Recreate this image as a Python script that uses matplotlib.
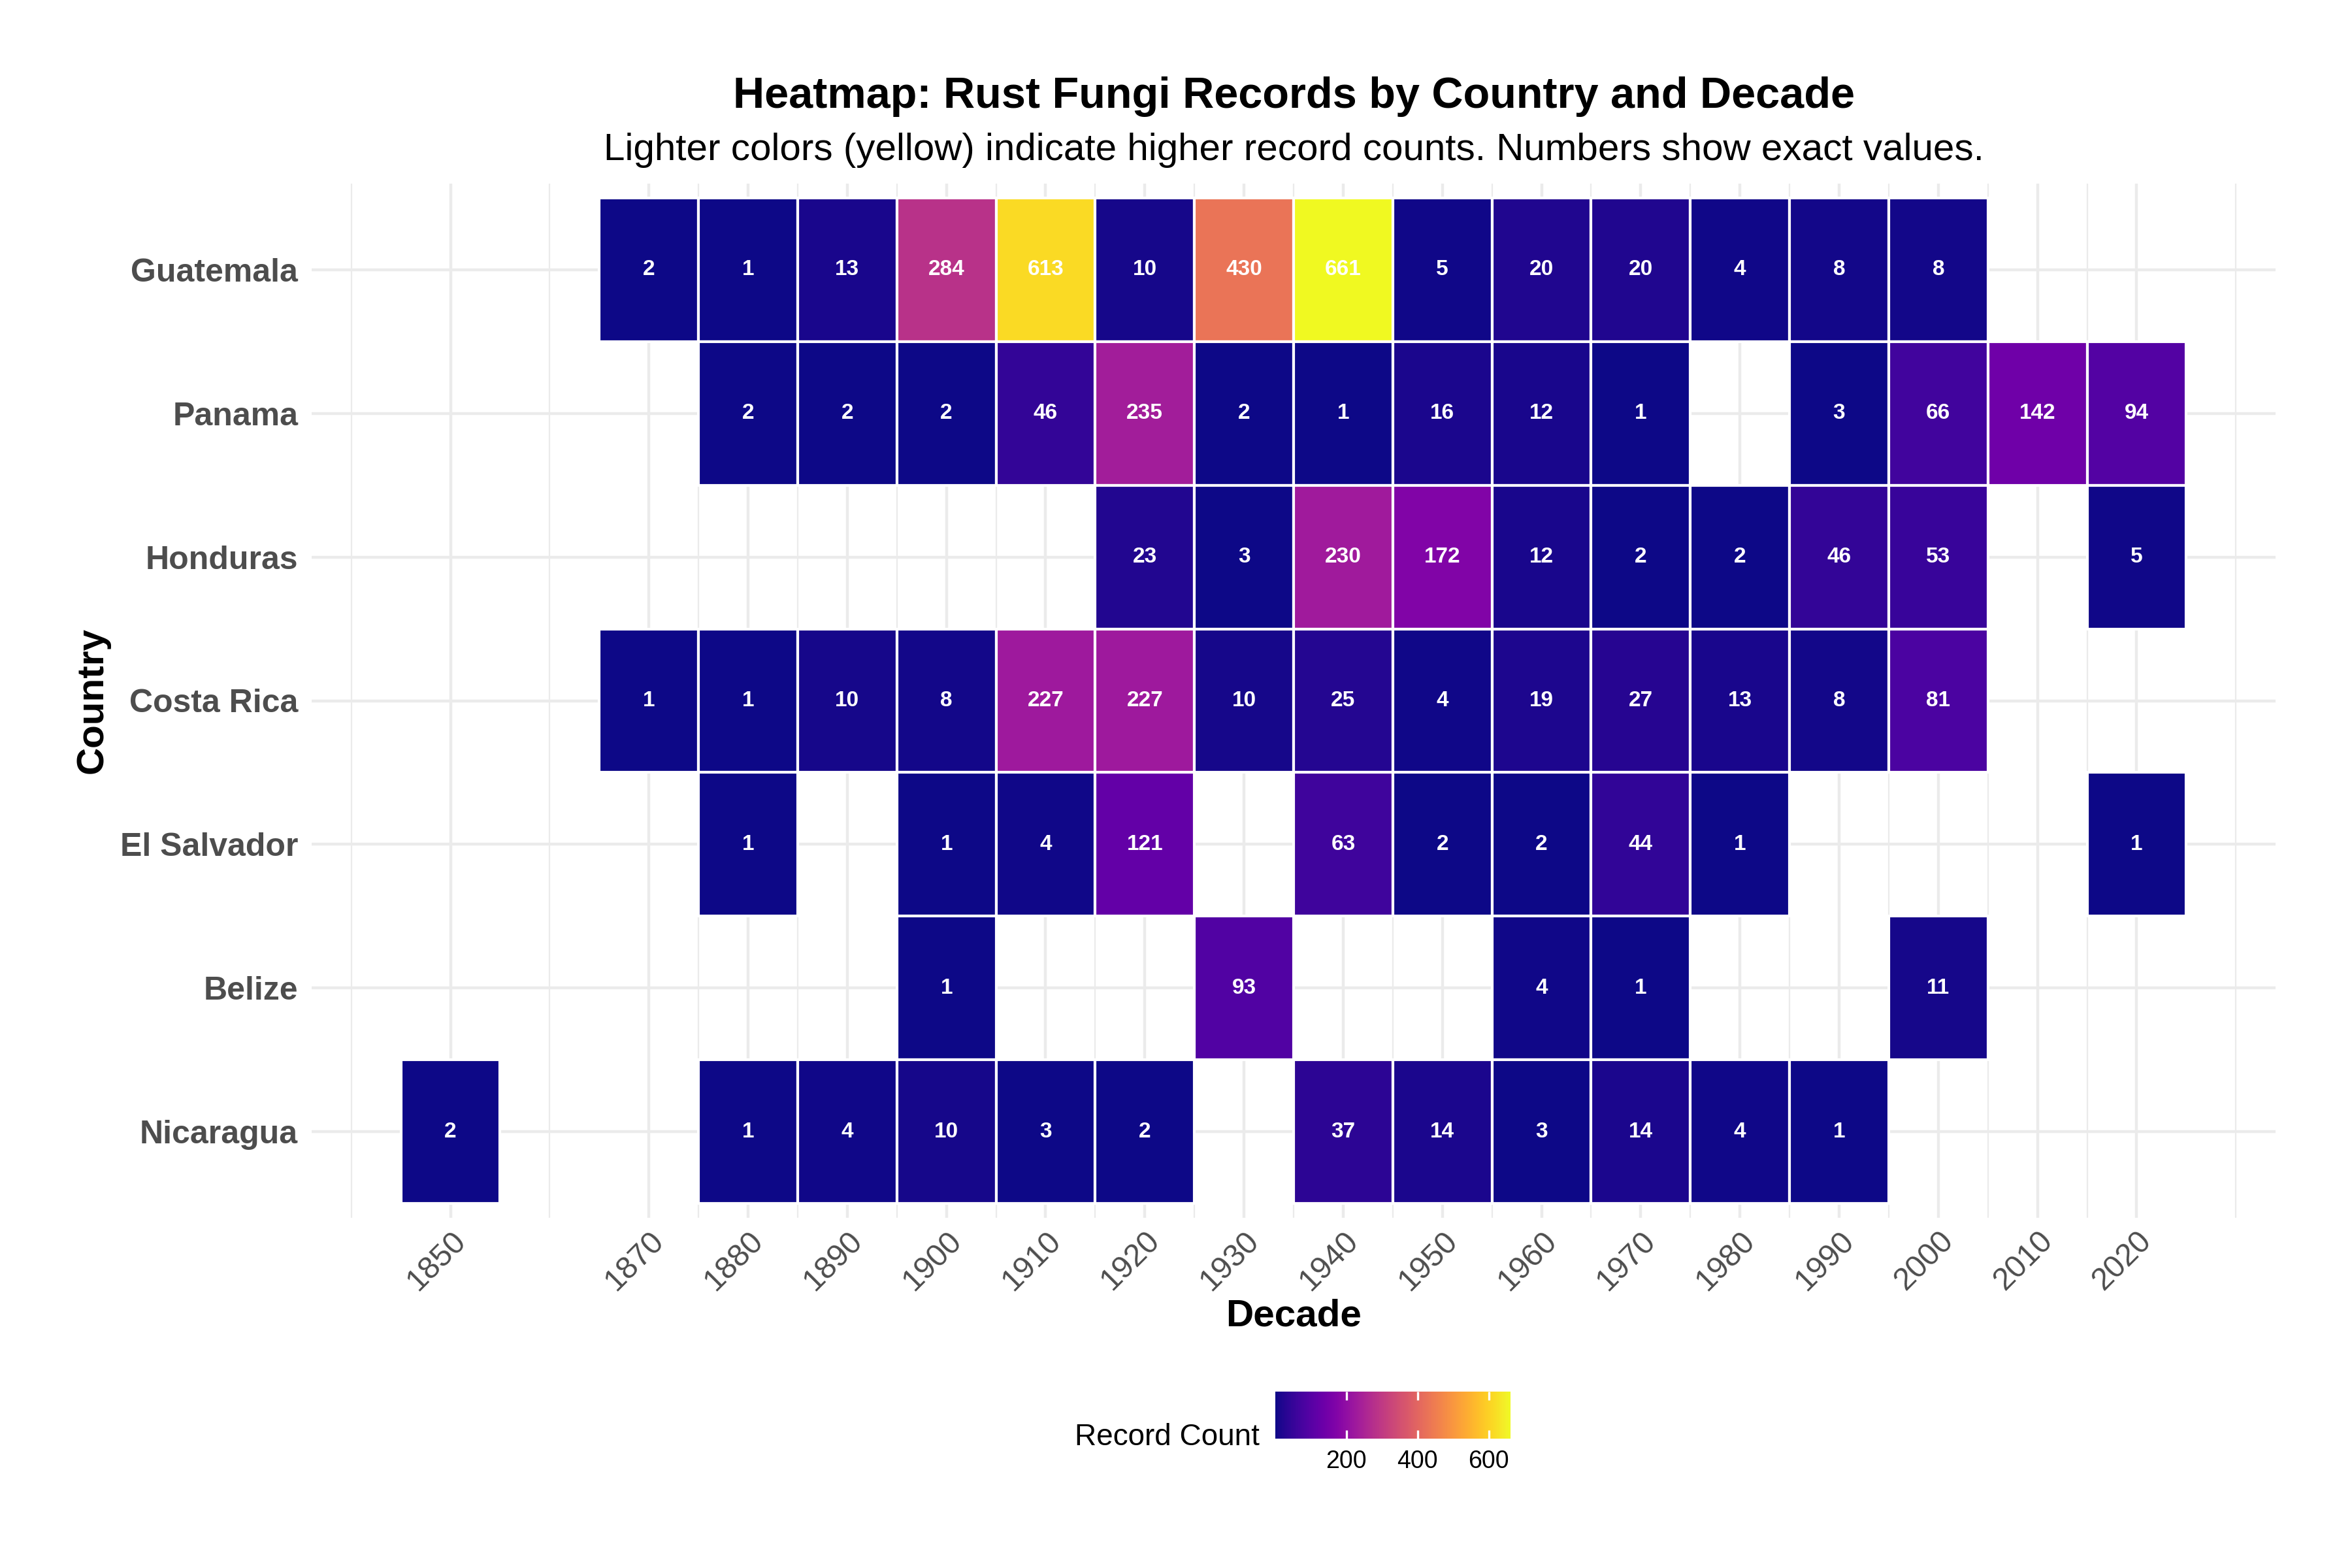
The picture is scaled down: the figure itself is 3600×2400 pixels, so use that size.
import matplotlib
matplotlib.use("Agg")
import matplotlib.pyplot as plt
import numpy as np
from matplotlib import cm, colors

plt.rcParams["font.family"] = ["Liberation Sans", "DejaVu Sans"]

# ------------------------------------------------------------------ data
decades = [1850, 1870, 1880, 1890, 1900, 1910, 1920, 1930, 1940,
           1950, 1960, 1970, 1980, 1990, 2000, 2010, 2020]
countries = ["Guatemala", "Panama", "Honduras", "Costa Rica",
             "El Salvador", "Belize", "Nicaragua"]   # top -> bottom

guatemala = [None, 2, 1, 13, 284, 613, 10, 430, 661, 5, 20, 20, 4, 8, 8, None, None]
panama = [None, None, 2, 2, 2, 46, 235, 2, 1, 16, 12, 1, None, 3, 66, 142, 94]
honduras = [None, None, None, None, None, None, 23, 3, 230, 172, 12, 2, 2, 46, 53, None, 5]
costa_rica = [None, 1, 1, 10, 8, 227, 227, 10, 25, 4, 19, 27, 13, 8, 81, None, None]
el_salvador = [None, None, 1, None, 1, 4, 121, None, 63, 2, 2, 44, 1, None, None, None, 1]
belize = [None, None, None, None, 1, None, None, 93, None, None, 4, 1, None, None, 11, None, None]
nicaragua = [2, None, 1, 4, 10, 3, 2, None, 37, 14, 3, 14, 4, 1, None, None, None]

rows = [guatemala, panama, honduras, costa_rica, el_salvador, belize, nicaragua]
cbar_ticks = [200, 400, 600]

# ------------------------------------------------------------------ style
GRID = "#EBEBEB"
AXTXT = "#4D4D4D"
W, H = 3600, 2400
fig = plt.figure(figsize=(12, 8), dpi=300)
fig.patch.set_facecolor("white")

# panel placement (pixel based)
pl, pr, pt, pb = 477, 3483, 281, 1864
ax = fig.add_axes([pl / W, 1 - pb / H, (pr - pl) / W, (pb - pt) / H])

allvals = [v for r in rows for v in r if v is not None]
norm = colors.Normalize(vmin=min(allvals), vmax=max(allvals))
cmap = plt.get_cmap("plasma")

n = len(countries)
for i, (country, vals) in enumerate(zip(countries, rows)):
    y = n - 1 - i
    xs = [d for d, v in zip(decades, vals) if v is not None]
    vs = [v for v in vals if v is not None]
    ax.bar(xs, 1.0, width=10, bottom=y - 0.5, color=cmap(norm(np.array(vs))),
           edgecolor="white", linewidth=1.0, zorder=3)
    for x, v in zip(xs, vs):
        ax.text(x, y, str(v), ha="center", va="center", color="white",
                fontsize=8, fontweight="bold", zorder=4)

# continuous x with ggplot-like expansion
lo, hi = min(decades) - 5, max(decades) + 5
pad = (hi - lo) * 0.05
ax.set_xlim(lo - pad, hi + pad)
ax.set_ylim(-0.6, n - 1 + 0.6)

ax.set_xticks(decades)
ax.set_xticklabels([str(d) for d in decades], rotation=45, ha="right",
                   va="top", rotation_mode="anchor", fontsize=11.5, color=AXTXT)
ext = [decades[0] - (decades[1] - decades[0])] + decades + \
      [decades[-1] + (decades[1] - decades[0])]
ax.set_xticks([(a + b) / 2 for a, b in zip(ext[:-1], ext[1:])], minor=True)
ax.set_yticks(range(n))
ax.set_yticklabels(countries[::-1], fontsize=12, fontweight="bold", color=AXTXT)
ax.tick_params(axis="both", which="both", length=0)
ax.tick_params(axis="x", pad=3)
ax.tick_params(axis="y", pad=5)

ax.set_axisbelow(True)
ax.grid(which="major", color=GRID, linewidth=1.07, zorder=0)
ax.grid(which="minor", axis="x", color=GRID, linewidth=0.53, zorder=0)
for s in ax.spines.values():
    s.set_visible(False)

# titles and axis labels
cx = (pl + pr) / 2 / W
fig.text(cx, 1 - 165 / H, "Heatmap: Rust Fungi Records by Country and Decade",
         ha="center", va="baseline", fontsize=16, fontweight="bold")
fig.text(cx, 1 - 245 / H,
         "Lighter colors (yellow) indicate higher record counts. Numbers show exact values.",
         ha="center", va="baseline", fontsize=14)
fig.text(cx, 1 - 2029 / H, "Decade", ha="center", va="baseline",
         fontsize=14, fontweight="bold")
fig.text(142 / W, 1 - 1072 / H, "Country", ha="center", va="center",
         rotation=90, fontsize=14, fontweight="bold")

# colour bar legend
cax = fig.add_axes([1952 / W, 1 - 2202 / H, (2312 - 1952) / W, (2202 - 2130) / H])
cb = fig.colorbar(cm.ScalarMappable(norm=norm, cmap=cmap), cax=cax,
                  orientation="horizontal")
cb.outline.set_visible(False)
cb.set_ticks(cbar_ticks)
cax.xaxis.set_ticks_position("both")
cax.tick_params(axis="x", which="major", direction="in", color="white",
                length=3.2, width=0.8, labelsize=9, pad=4,
                labeltop=False, labelbottom=True)
cax.tick_params(axis="x", which="minor", length=0)
fig.text(1928 / W, 1 - 2212 / H, "Record Count", ha="right", va="baseline",
         fontsize=11)

fig.savefig("out.png", dpi=300, facecolor="white")
